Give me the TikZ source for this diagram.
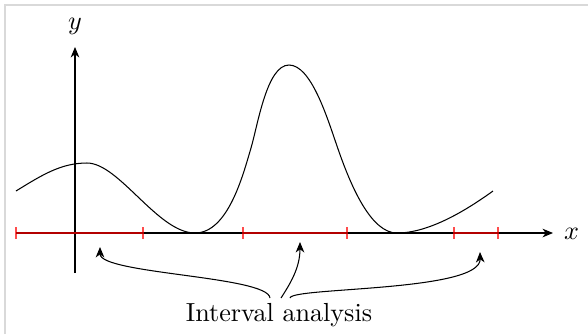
\documentclass[tikz,border=0pt]{standalone}
\usetikzlibrary{arrows.meta}
\begin{document}
\begin{tikzpicture}[x=0.3827pt,y=-0.3827pt,
  >={Stealth[length=4pt,width=3.3pt,inset=1.2pt]},
  axis/.style={->,line width=0.4pt},
  ival/.style={red,opacity=0.7,line width=0.45pt},
  curvestyle/.style={line width=0.4pt},
  pointer/.style={->,line width=0.4pt},
  frameline/.style={black!15,line width=0.8pt}]
\useasboundingbox (0,0) rectangle (588,334);
\draw[frameline] (5,334) -- (5,5) -- (588,5);
% axes
\coordinate (xs) at (16,233);
\coordinate (xe) at (553,233);
\coordinate (ys) at (75,273);
\coordinate (ye) at (75,47);
\draw[axis] (xs) -- (xe);
\draw[axis] (ys) -- (ye);
\node[anchor=base] (xl) at (571.5,239) {$x$};
\node[anchor=base] (yl) at (75,29) {$y$};
% function
\draw[curvestyle] (16,191) .. controls (42,175) and (61,163) .. (87,163)
  .. controls (119,163) and (158,233) .. (195,233)
  .. controls (228,233) and (243,175) .. (251,148)
  .. controls (258,124) and (267,65) .. (289,65)
  .. controls (311,65) and (327,117) .. (337,146)
  .. controls (352,190) and (372,233) .. (397,233)
  .. controls (430,233) and (468,209) .. (493,191);
% intervals
\draw[ival] (16,227) -- (16,239) (16,233) -- (143,233) (143,227) -- (143,239);
\draw[ival] (243,227) -- (243,239) (243,233) -- (347,233) (347,227) -- (347,239);
\draw[ival] (454,227) -- (454,239) (454,233) -- (498,233) (498,227) -- (498,239);
% label and pointers
\node[anchor=base,inner sep=0pt] (lbl) at (279,321.5) {Interval analysis};
\coordinate (s1) at (270,298);
\coordinate (s2) at (281,298);
\coordinate (s3) at (290,298);
\coordinate (t1) at (100,247);
\coordinate (t2) at (300,242);
\coordinate (t3) at (480,252);
\draw[pointer] (s1) .. controls (268,276) and (100,274) .. (t1);
\draw[pointer] (s2) .. controls (290,284) and (300,268) .. (t2);
\draw[pointer] (s3) .. controls (291,287) and (481,292) .. (t3);
\end{tikzpicture}
\end{document}
